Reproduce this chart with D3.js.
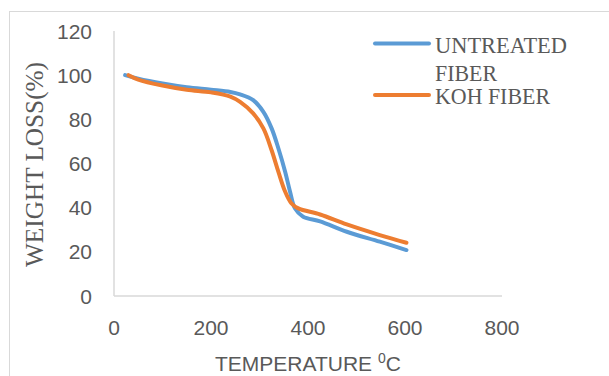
<!DOCTYPE html>
<html lang="en">
<head>
<meta charset="UTF-8">
<title>TGA weight loss</title>
<style>
    body { margin: 0; background: #fff; }
    .tick-label { font-family: "Liberation Sans", Arial, sans-serif; font-size: 21px; fill: #595959; }
    .serif { font-family: "Liberation Serif", "Times New Roman", serif; fill: #595959; }
</style>
</head>
<body>
<svg id="chart" width="609" height="376"></svg>
<script src="https://d3js.org/d3.v7.min.js"></script>
<script>
// data
const untreatedTemp = [23, 50, 100, 150, 200, 240, 260, 287, 308, 325, 339, 353, 363, 373, 390, 425, 480, 548, 603];
const untreatedWeight = [100, 98.4, 96.2, 94.5, 93.4, 92.4, 91.3, 88.7, 83.4, 75.9, 66.8, 56.2, 47.2, 39.7, 35.9, 33.8, 29.1, 24.6, 20.8];
const kohTemp = [30, 50, 100, 150, 200, 240, 260, 287, 308, 325, 339, 353, 366, 380, 425, 480, 548, 603];
const kohWeight = [100, 98, 95.3, 93.4, 92.2, 90.3, 87.9, 82.7, 75.9, 66, 56.2, 47.2, 41.9, 39.7, 36.9, 32.4, 27.6, 24.1];
const xTicks = [0, 200, 400, 600, 800];
const yTicks = [0, 20, 40, 60, 80, 100, 120];

const svg = d3.select("#chart");

// outer chart border
svg.append("rect")
    .attr("x", 9.5).attr("y", 11.5)
    .attr("width", 700).attr("height", 400)
    .attr("fill", "none")
    .attr("stroke", "#d9d9d9");

const x = d3.scaleLinear().domain([0, 800]).range([114, 502]);
const y = d3.scaleLinear().domain([0, 120]).range([296, 31]);

// axis lines
svg.append("line")
    .attr("x1", x(0)).attr("x2", x(0))
    .attr("y1", y(120)).attr("y2", y(0))
    .attr("stroke", "#d9d9d9").attr("stroke-width", 1.5);
svg.append("line")
    .attr("x1", x(0)).attr("x2", x(800))
    .attr("y1", y(0)).attr("y2", y(0))
    .attr("stroke", "#d9d9d9").attr("stroke-width", 1.5);

svg.selectAll(".ylab")
    .data(yTicks)
    .enter().append("text")
    .attr("class", "tick-label")
    .attr("x", 92)
    .attr("y", d => y(d))
    .attr("dy", "0.36em")
    .attr("text-anchor", "end")
    .text(d => d);

svg.selectAll(".xlab")
    .data(xTicks)
    .enter().append("text")
    .attr("class", "tick-label")
    .attr("x", d => x(d))
    .attr("y", 335)
    .attr("text-anchor", "middle")
    .text(d => d);

// axis titles
const xt = svg.append("text")
    .attr("class", "tick-label")
    .attr("x", 215)
    .attr("y", 371);
xt.append("tspan").text("TEMPERATURE ");
xt.append("tspan").attr("font-size", 14).attr("dy", -8).text("0");
xt.append("tspan").attr("dy", 8).text("C");

svg.append("text")
    .attr("class", "serif")
    .attr("font-size", 26)
    .attr("transform", "translate(43,164.5) rotate(-90)")
    .attr("text-anchor", "middle")
    .attr("textLength", 205)
    .attr("lengthAdjust", "spacingAndGlyphs")
    .text("WEIGHT LOSS(%)");

// series
const line = d3.line()
    .x(d => x(d[0]))
    .y(d => y(d[1]))
    .curve(d3.curveCatmullRom.alpha(0.5));

const series = [
    { name: "UNTREATED", color: "#5b9bd5", pts: d3.zip(untreatedTemp, untreatedWeight) },
    { name: "KOH FIBER", color: "#ed7d31", pts: d3.zip(kohTemp, kohWeight) }
];

svg.selectAll(".series")
    .data(series)
    .enter().append("path")
    .attr("d", d => line(d.pts))
    .attr("fill", "none")
    .attr("stroke", d => d.color)
    .attr("stroke-width", 4)
    .attr("stroke-linecap", "round")
    .attr("stroke-linejoin", "round");

// legend
const legY = [43.5, 95];
svg.selectAll(".legline")
    .data(series)
    .enter().append("line")
    .attr("x1", 375).attr("x2", 429)
    .attr("y1", (d, i) => legY[i]).attr("y2", (d, i) => legY[i])
    .attr("stroke", d => d.color)
    .attr("stroke-width", 4)
    .attr("stroke-linecap", "round");

svg.append("text").attr("class", "serif").attr("font-size", 24)
    .attr("x", 435).attr("y", 53)
    .attr("textLength", 132).attr("lengthAdjust", "spacingAndGlyphs")
    .text("UNTREATED");
svg.append("text").attr("class", "serif").attr("font-size", 24)
    .attr("x", 435).attr("y", 81)
    .attr("textLength", 62).attr("lengthAdjust", "spacingAndGlyphs")
    .text("FIBER");
svg.append("text").attr("class", "serif").attr("font-size", 24)
    .attr("x", 435).attr("y", 103.5)
    .attr("textLength", 115).attr("lengthAdjust", "spacingAndGlyphs")
    .text("KOH FIBER");
</script>
</body>
</html>
